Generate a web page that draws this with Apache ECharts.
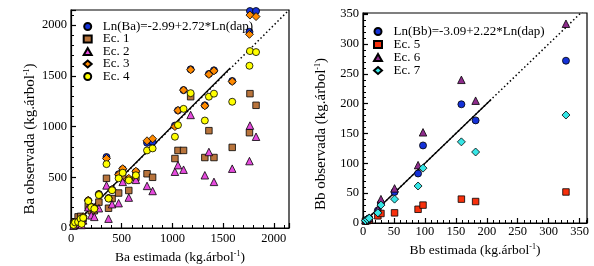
<!DOCTYPE html>
<html>
<head>
<meta charset="utf-8">
<script src="https://cdn.jsdelivr.net/npm/echarts@6/dist/echarts.min.js"></script>
<style>
  html, body { margin: 0; padding: 0; background: #fff; }
  #chart { width: 594px; height: 266px; }
</style>
</head>
<body>
<div id="chart"></div>
<script>
// ---- panel izquierdo: Ba (kg.árbol-1) ----
const baEst = [25, 40, 70, 95, 105, 120, 170, 200, 230, 275, 350, 370, 405, 470, 510, 570, 640, 750, 805,
  1025, 1055, 1110, 1180, 1320, 1360, 1410, 1590, 1760, 1765, 1825];
const baLn  = [28, 45, 60, 80, 45, 105, 270, 210, 195, 335, 700, 295, 380, 530, 580, 480, 555, 840, 850,
  1010, 1160, 1360, 1565, 1210, 1520, 1555, 1450, 1935, 2140, 2140];
const baEc1 = [40, 60, 110, 115, 80, 95, 215, 170, 170, 255, 490, 195, 290, 345, 500, 370, 500, 535, 500,
  685, 765, 765, 1295, 695, 960, 695, 795, 940, 1325, 1210];
const baEc2 = [22, 35, 45, 70, 30, 75, 205, 125, 110, 195, 420, 92, 235, 245, 455, 300, 475, 415, 365,
  555, 620, 575, 1115, 520, 750, 455, 585, 660, 1010, 900];
const baEc3 = [30, 48, 65, 90, 45, 110, 275, 210, 195, 335, 685, 295, 380, 525, 585, 490, 560, 860, 880,
  1000, 1160, 1360, 1560, 1205, 1515, 1550, 1445, 1910, 2100, 2085];
const baEc4 = [30, 55, 60, 90, 40, 100, 265, 205, 190, 325, 630, 290, 372, 490, 545, 470, 520, 765, 785,
  900, 1015, 1175, 1330, 1060, 1295, 1325, 1245, 1600, 1745, 1735];
const baTicks = [0, 500, 1000, 1500, 2000];
const baMax = 2150;
const baFit = [[0, 0], [1570, 1578]];

// ---- panel derecho: Bb (kg.árbol-1) ----
const bbEst = [4, 7, 10, 24, 29, 51, 89, 97, 159, 182, 328];
const bbLn  = [4, 6, 8, 21, 33, 52, 83, 130, 199, 172, 272];
const bbEc5 = [3, 4, 5, 12, 16, 17, 23, 30, 40, 36, 52];
const bbEc6 = [5, 7, 9, 23, 40, 58, 97, 152, 240, 205, 334];
const bbEc7 = [4, 6, 8, 17, 30, 40, 62, 92, 136, 119, 181];
const bbTicks = [0, 50, 100, 150, 200, 250, 300, 350];
const bbMaxX = 362, bbMaxY = 352;
const bbFit = [[0, 0], [207, 207]];

const serif = 'Liberation Serif';

function pts(xs, ys) {
  return xs.map((x, i) => [x, ys[i]]);
}

function axis(ticks, max, step, margin, extra, nameSize, namePad) {
  return Object.assign({
    type: 'value',
    min: 0,
    max: max,
    interval: step,
    axisLine: { show: true, lineStyle: { color: '#000', width: 1.2 } },
    axisTick: { show: true, inside: true, length: 5, lineStyle: { color: '#000', width: 1.2 } },
    minorTick: { show: true, splitNumber: 5, length: 3, lineStyle: { color: '#000', width: 1 } },
    splitLine: { show: false },
    minorSplitLine: { show: false },
    axisLabel: {
      color: '#000', fontFamily: serif, fontSize: 12.5, margin: margin,
      formatter: v => (ticks.indexOf(v) >= 0 ? String(v) : '')
    },
    nameLocation: 'middle',
    nameTextStyle: {
      color: '#000', fontFamily: serif, fontSize: nameSize, padding: namePad,
      rich: { s: { fontFamily: serif, fontSize: 8, padding: [0, 0, 7, 0], color: '#000' } }
    }
  }, extra);
}

function scat(name, data, sym, color, xi, size) {
  return {
    name: name, type: 'scatter', xAxisIndex: xi, yAxisIndex: xi,
    data: data, symbol: sym, symbolSize: size || 7,
    itemStyle: { color: color, borderColor: '#000', borderWidth: 0.8, opacity: 1 }
  };
}

function line(data, xi, dotted) {
  return {
    type: 'line', xAxisIndex: xi, yAxisIndex: xi, data: data, symbol: 'none', silent: true,
    lineStyle: { color: '#000', width: dotted ? 1.5 : 1.3, type: dotted ? [1.5, 2.5] : 'solid' },
    z: 1
  };
}

function legendText(pad) {
  return { color: '#000', fontFamily: serif, fontSize: 13, lineHeight: 12, padding: [0, 0, 0, pad] };
}

const chart = echarts.init(document.getElementById('chart'));
chart.setOption({
  backgroundColor: '#fff',
  animation: false,
  grid: [
    { left: 71, top: 10, width: 218, height: 218, show: true, borderColor: '#000', borderWidth: 1.2, outerBoundsMode: 'none' },
    { left: 363, top: 13, width: 224, height: 210, show: true, borderColor: '#000', borderWidth: 1.2, outerBoundsMode: 'none' }
  ],
  xAxis: [
    axis(baTicks, baMax, 500, 4, { gridIndex: 0, name: 'Ba estimada (kg.árbol{s|-1})', nameGap: 12.5 }, 13.5, 0),
    axis(bbTicks, bbMaxX, 50, 2.5, { gridIndex: 1, name: 'Bb estimada (kg.árbol{s|-1})', nameGap: 17.5 }, 13.5, 0)
  ],
  yAxis: [
    axis(baTicks, baMax, 500, 4, { gridIndex: 0, name: 'Ba observada (kg.árbol{s|-1})', nameGap: 33 }, 15, [0, 40, 0, 0]),
    axis(bbTicks, bbMaxY, 50, 4, { gridIndex: 1, name: 'Bb observada (kg.árbol{s|-1})', nameGap: 34 }, 15, [0, 32, 0, 0])
  ],
  legend: [
    {
      orient: 'vertical', left: 82.7, top: 20, padding: 0, itemWidth: 8, itemHeight: 7, itemGap: -0.5,
      selectedMode: false, textStyle: legendText(6),
      data: ['Ln(Ba)=-2.99+2.72*Ln(dap)', 'Ec. 1', 'Ec. 2', 'Ec. 3', 'Ec. 4']
    },
    {
      orient: 'vertical', left: 373, top: 25, padding: 0, itemWidth: 8, itemHeight: 7, itemGap: 0,
      selectedMode: false, textStyle: legendText(6.5),
      data: ['Ln(Bb)=-3.09+2.22*Ln(dap)', 'Ec. 5', 'Ec. 6', 'Ec. 7']
    }
  ],
  series: [
    line([[0, 0], [baMax, baMax]], 0, true),
    line(baFit, 0, false),
    scat('Ln(Ba)=-2.99+2.72*Ln(dap)', pts(baEst, baLn), 'circle', '#1532d8', 0),
    scat('Ec. 1', pts(baEst, baEc1), 'rect', '#b8743c', 0, 6.5),
    scat('Ec. 2', pts(baEst, baEc2), 'triangle', '#e64ade', 0, 7.5),
    scat('Ec. 3', pts(baEst, baEc3), 'diamond', '#ff8a00', 0, 8),
    scat('Ec. 4', pts(baEst, baEc4), 'circle', '#ffff00', 0),

    line([[0, 0], [bbMaxX, bbMaxX]], 1, true),
    line(bbFit, 1, false),
    scat('Ln(Bb)=-3.09+2.22*Ln(dap)', pts(bbEst, bbLn), 'circle', '#1532d8', 1),
    scat('Ec. 5', pts(bbEst, bbEc5), 'rect', '#f8300c', 1, 6.5),
    scat('Ec. 6', pts(bbEst, bbEc6), 'triangle', '#8e2c8c', 1, 7.5),
    scat('Ec. 7', pts(bbEst, bbEc7), 'diamond', '#36e6e6', 1, 8)
  ]
});
</script>
</body>
</html>
